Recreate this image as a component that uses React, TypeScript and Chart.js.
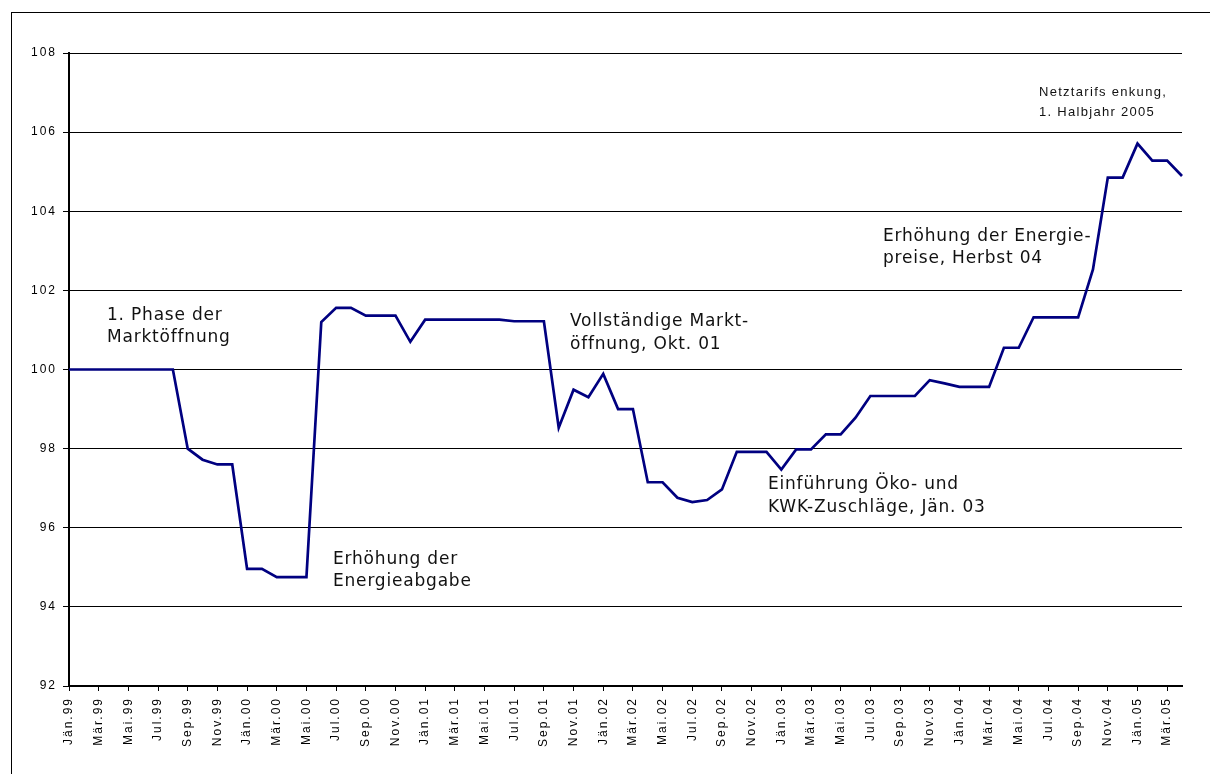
import React, { useEffect, useRef } from "react";
import { Chart, registerables } from "chart.js";

Chart.register(...registerables);

const CATEGORIES = [
  "Jän.99", "Feb.99", "Mär.99", "Apr.99", "Mai.99", "Jun.99", "Jul.99", "Aug.99", "Sep.99", "Okt.99", "Nov.99", "Dez.99",
  "Jän.00", "Feb.00", "Mär.00", "Apr.00", "Mai.00", "Jun.00", "Jul.00", "Aug.00", "Sep.00", "Okt.00", "Nov.00", "Dez.00",
  "Jän.01", "Feb.01", "Mär.01", "Apr.01", "Mai.01", "Jun.01", "Jul.01", "Aug.01", "Sep.01", "Okt.01", "Nov.01", "Dez.01",
  "Jän.02", "Feb.02", "Mär.02", "Apr.02", "Mai.02", "Jun.02", "Jul.02", "Aug.02", "Sep.02", "Okt.02", "Nov.02", "Dez.02",
  "Jän.03", "Feb.03", "Mär.03", "Apr.03", "Mai.03", "Jun.03", "Jul.03", "Aug.03", "Sep.03", "Okt.03", "Nov.03", "Dez.03",
  "Jän.04", "Feb.04", "Mär.04", "Apr.04", "Mai.04", "Jun.04", "Jul.04", "Aug.04", "Sep.04", "Okt.04", "Nov.04", "Dez.04",
  "Jän.05", "Feb.05", "Mär.05", "Apr.05",
];

const PRICE_INDEX = [
  100, 100, 100, 100, 100, 100, 100, 100, 98.0, 97.72, 97.6, 97.6,
  94.96, 94.96, 94.75, 94.75, 94.75, 101.2, 101.56, 101.56, 101.36, 101.36, 101.36, 100.7,
  101.26, 101.26, 101.26, 101.26, 101.26, 101.26, 101.22, 101.22, 101.22, 98.53, 99.49, 99.3,
  99.89, 99.0, 99.0, 97.15, 97.15, 96.76, 96.65, 96.7, 96.97, 97.92, 97.92, 97.92,
  97.47, 97.98, 97.98, 98.36, 98.36, 98.78, 99.33, 99.33, 99.33, 99.33, 99.73, 99.65,
  99.56, 99.56, 99.56, 100.55, 100.55, 101.32, 101.32, 101.32, 101.32, 102.53, 104.85, 104.85,
  105.71, 105.28, 105.28, 104.89,
];

const Y_MIN = 92;
const Y_MAX = 108;
const Y_STEP = 2;

const NOTE_TEXTS = [
  ["1. Phase der", "Marktöffnung"],
  ["Erhöhung der", "Energieabgabe"],
  ["Vollständige Markt-", "öffnung, Okt. 01"],
  ["Einführung Öko- und", "KWK-Zuschläge, Jän. 03"],
  ["Erhöhung der Energie-", "preise, Herbst 04"],
  ["Netztarifs enkung,", "1. Halbjahr 2005"],
];

// anchor of each note in data coordinates (category index, index value)
const NOTE_ANCHORS = [
  { x: 2.56, y: 101.37 },
  { x: 17.79, y: 95.2 },
  { x: 33.76, y: 101.21 },
  { x: 47.1, y: 97.09 },
  { x: 54.85, y: 103.36 },
  { x: 65.36, y: 107.0 },
];

const BIG_NOTE = { font: '17px "DejaVu Sans", Verdana, sans-serif', spacing: "0.8px", lh: 22.5 };
const SMALL_NOTE = { font: '13px "Liberation Sans", Arial, sans-serif', spacing: "1.3px", lh: 20 };

const framePlugin = {
  id: "frameAndSpacing",
  beforeDraw(chart: any) {
    const ctx = chart.ctx;
    ctx.save();
    ctx.strokeStyle = "#000";
    ctx.lineWidth = 1;
    ctx.strokeRect(11.5, 12.5, 3000, 3000);
    ctx.restore();
    (ctx as any).letterSpacing = "2px";
  },
  beforeDatasetsDraw(chart: any) {
    (chart.ctx as any).letterSpacing = "0px";
  },
};

const notesPlugin = {
  id: "notes",
  afterDraw(chart: any) {
    const { ctx } = chart;
    const xs = chart.scales.x;
    const ys = chart.scales.y;
    ctx.save();
    NOTE_TEXTS.forEach((lines, i) => {
      const style = i === NOTE_TEXTS.length - 1 ? SMALL_NOTE : BIG_NOTE;
      ctx.font = style.font;
      (ctx as any).letterSpacing = style.spacing;
      ctx.fillStyle = "#111";
      ctx.textAlign = "left";
      ctx.textBaseline = "middle";
      const px = xs.getPixelForValue(NOTE_ANCHORS[i].x);
      const py = ys.getPixelForValue(NOTE_ANCHORS[i].y);
      lines.forEach((t, k) => ctx.fillText(t, px, py + k * style.lh));
    });
    ctx.restore();
  },
};

export default function App() {
  const canvasRef = useRef<HTMLCanvasElement | null>(null);

  useEffect(() => {
    if (!canvasRef.current) return;
    const tickFont = { family: '"Liberation Sans", Arial, sans-serif', size: 12 };
    const chart = new Chart(canvasRef.current, {
      type: "line",
      data: {
        labels: CATEGORIES,
        datasets: [
          {
            data: PRICE_INDEX,
            borderColor: "#000080",
            borderWidth: 2.7,
            pointRadius: 0,
            tension: 0,
            fill: false,
          },
        ],
      },
      options: {
        responsive: false,
        animation: false,
        events: [],
        layout: { padding: { left: 0, top: 53, right: 28, bottom: 0 } },
        plugins: {
          legend: { display: false },
          tooltip: { enabled: false },
          title: { display: false },
        },
        scales: {
          x: {
            type: "category",
            offset: false,
            grid: {
              drawOnChartArea: false,
              drawTicks: true,
              tickLength: 5,
              color: "#000",
              lineWidth: 1,
            },
            border: { color: "#000", width: 2 },
            ticks: {
              autoSkip: false,
              minRotation: 90,
              maxRotation: 90,
              padding: 6,
              color: "#000",
              font: tickFont,
              callback: (_v: any, i: number) => (i % 2 === 0 ? CATEGORIES[i] : null),
            },
            afterFit: (scale: any) => {
              scale.height = 88;
            },
          },
          y: {
            min: Y_MIN,
            max: Y_MAX,
            grid: {
              color: "#000",
              lineWidth: 1,
              drawTicks: true,
              tickLength: 6,
            },
            border: { color: "#000", width: 2 },
            ticks: {
              stepSize: Y_STEP,
              padding: 6,
              color: "#000",
              font: tickFont,
            },
            afterFit: (scale: any) => {
              scale.width = 69;
            },
          },
        },
      },
      plugins: [framePlugin, notesPlugin],
    });
    return () => chart.destroy();
  }, []);

  return (
    <div style={{ position: "fixed", left: 0, top: 0, width: 1210, height: 774, overflow: "hidden", background: "#fff" }}>
      <canvas ref={canvasRef} width={1210} height={774} style={{ display: "block" }} />
    </div>
  );
}
